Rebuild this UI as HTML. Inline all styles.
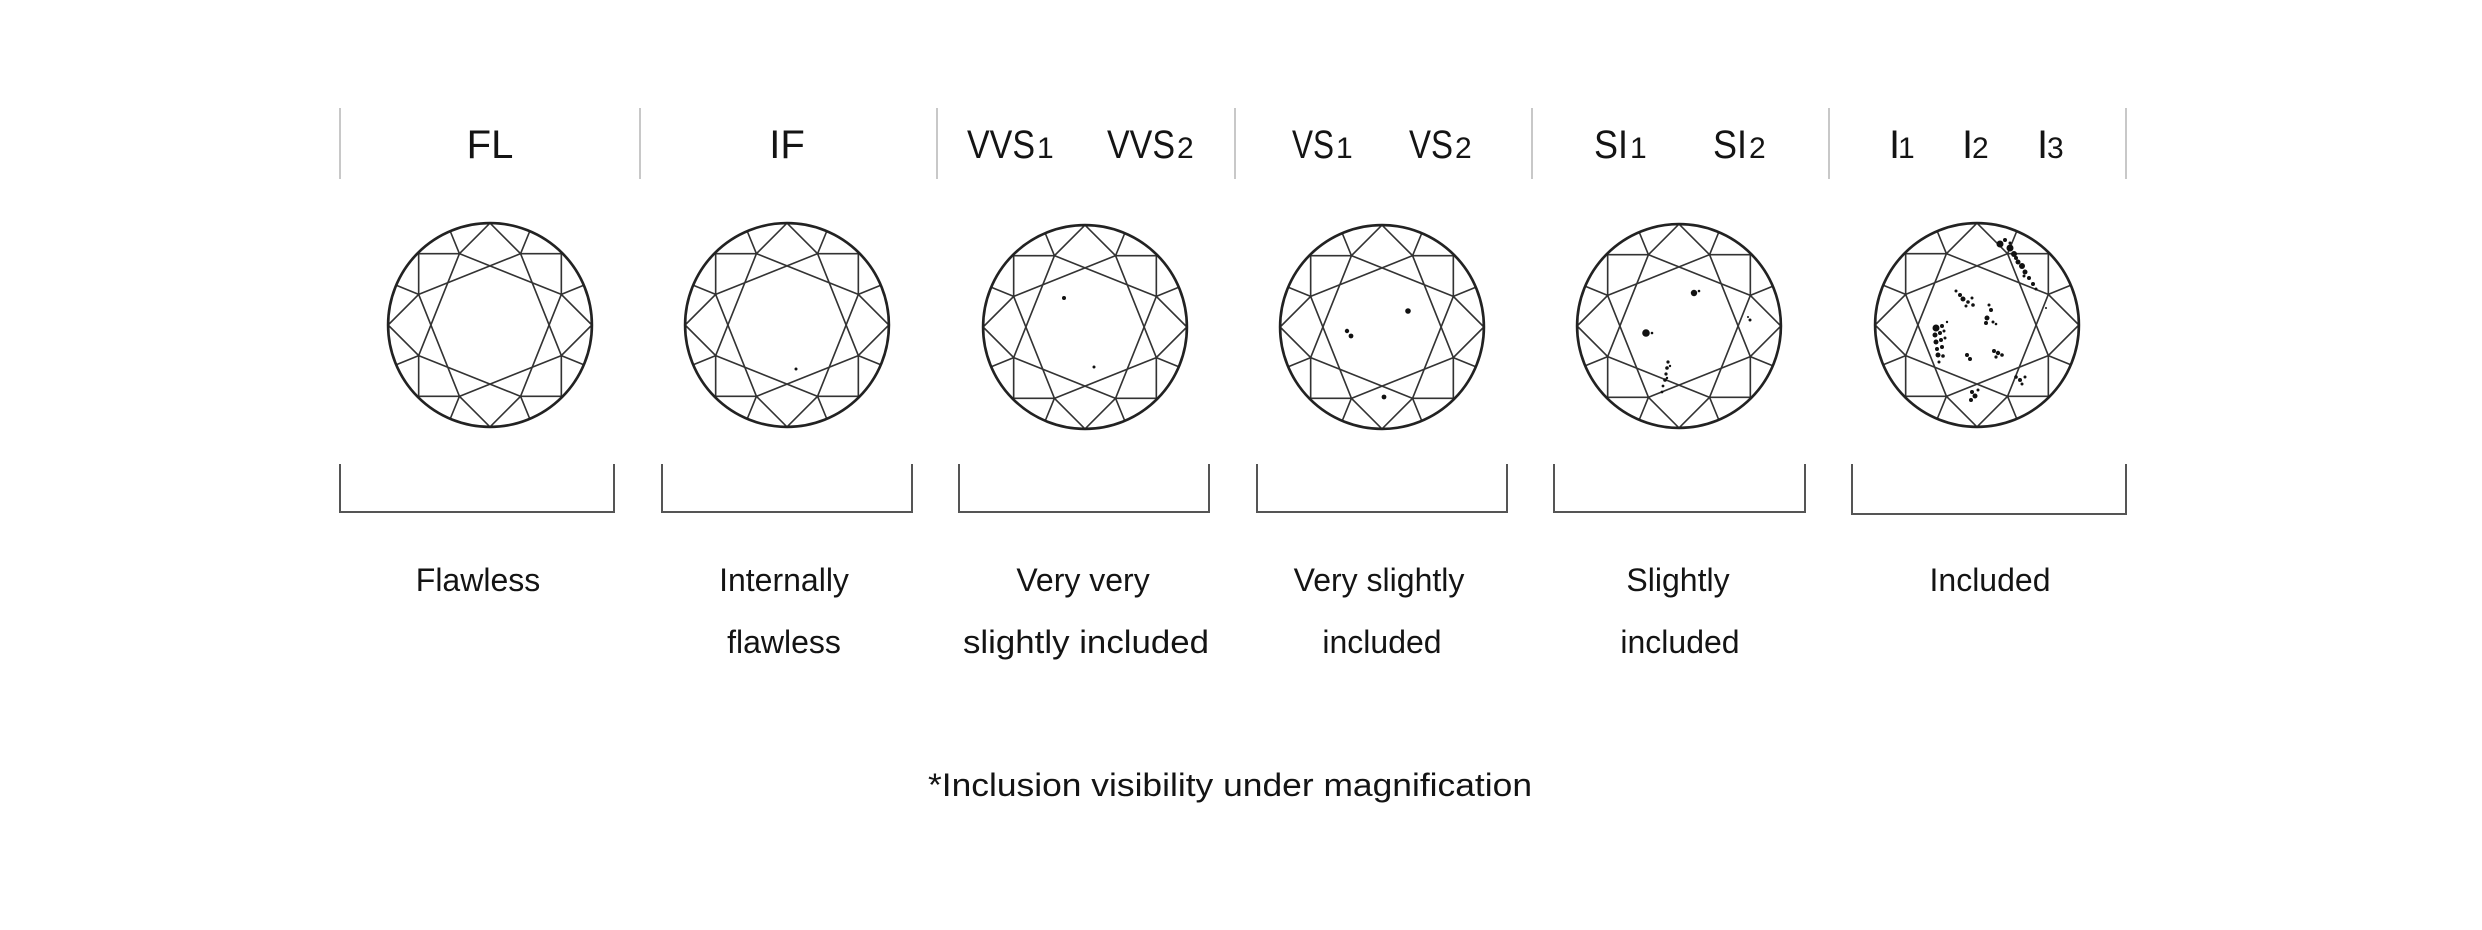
<!DOCTYPE html>
<html><head><meta charset="utf-8"><style>
html,body{margin:0;padding:0;background:#fff;}
svg{display:block;}
text{font-family:"Liberation Sans",sans-serif;fill:#141414;}
.h{font-size:40px;}
.s{font-size:30px;}
.l{font-size:32px;}
</style></head><body>
<svg width="2482" height="930" viewBox="0 0 2482 930" xmlns="http://www.w3.org/2000/svg">
<defs>
<symbol id="d" viewBox="-105 -105 210 210">
<g stroke="#333" stroke-width="1.6" fill="none" stroke-linecap="round">
<line x1="70" y1="30" x2="-30" y2="70"/><line x1="30" y1="70" x2="-70" y2="30"/>
<line x1="-30" y1="70" x2="-70" y2="-30"/><line x1="-70" y1="30" x2="-30" y2="-70"/>
<line x1="-70" y1="-30" x2="30" y2="-70"/><line x1="-30" y1="-70" x2="70" y2="-30"/>
<line x1="30" y1="-70" x2="70" y2="30"/><line x1="70" y1="-30" x2="30" y2="70"/>
<line x1="70" y1="30" x2="92" y2="39"/><line x1="30" y1="70" x2="39" y2="92"/>
<line x1="-30" y1="70" x2="-39" y2="92"/><line x1="-70" y1="30" x2="-92" y2="39"/>
<line x1="-70" y1="-30" x2="-92" y2="-39"/><line x1="-30" y1="-70" x2="-39" y2="-92"/>
<line x1="30" y1="-70" x2="39" y2="-92"/><line x1="70" y1="-30" x2="92" y2="-39"/>
<polyline points="70,30 70,70 30,70"/><polyline points="-30,70 -70,70 -70,30"/>
<polyline points="-70,-30 -70,-70 -30,-70"/><polyline points="30,-70 70,-70 70,-30"/>
<polyline points="70,30 100,0 70,-30"/><polyline points="30,70 0,100 -30,70"/>
<polyline points="-70,30 -100,0 -70,-30"/><polyline points="-30,-70 0,-100 30,-70"/>
</g>
<circle cx="0" cy="0" r="100" fill="none" stroke="#222" stroke-width="2.6"/>
</symbol>
</defs>

<g stroke="#c8c8c8" stroke-width="2">
<line x1="340" y1="108" x2="340" y2="179"/><line x1="640" y1="108" x2="640" y2="179"/>
<line x1="937" y1="108" x2="937" y2="179"/><line x1="1235" y1="108" x2="1235" y2="179"/>
<line x1="1532" y1="108" x2="1532" y2="179"/><line x1="1829" y1="108" x2="1829" y2="179"/>
<line x1="2126" y1="108" x2="2126" y2="179"/>
</g>

<text class="h" x="490" y="158" text-anchor="middle">FL</text>
<text class="h" x="787" y="158" text-anchor="middle">IF</text>
<text class="h" x="967" y="158" textLength="68" lengthAdjust="spacingAndGlyphs">VVS</text><text class="s" x="1037" y="158">1</text>
<text class="h" x="1107" y="158" textLength="68" lengthAdjust="spacingAndGlyphs">VVS</text><text class="s" x="1177" y="158">2</text>
<text class="h" x="1292" y="158" textLength="42" lengthAdjust="spacingAndGlyphs">VS</text><text class="s" x="1336" y="158">1</text>
<text class="h" x="1409" y="158" textLength="44" lengthAdjust="spacingAndGlyphs">VS</text><text class="s" x="1455" y="158">2</text>
<text class="h" x="1594" y="158" textLength="34" lengthAdjust="spacingAndGlyphs">SI</text><text class="s" x="1630" y="158">1</text>
<text class="h" x="1713" y="158" textLength="34" lengthAdjust="spacingAndGlyphs">SI</text><text class="s" x="1749" y="158">2</text>
<text class="h" x="1889" y="158">I</text><text class="s" x="1898" y="158">1</text>
<text class="h" x="1962" y="158">I</text><text class="s" x="1972" y="158">2</text>
<text class="h" x="2037" y="158">I</text><text class="s" x="2047" y="158">3</text>

<use href="#d" x="383" y="218" width="214" height="214"/>
<use href="#d" x="680" y="218" width="214" height="214"/>
<use href="#d" x="978" y="220" width="214" height="214"/>
<use href="#d" x="1275" y="220" width="214" height="214"/>
<use href="#d" x="1572" y="219" width="214" height="214"/>
<use href="#d" x="1870" y="218" width="214" height="214"/>

<g fill="#111">
<circle cx="796" cy="369" r="1.5"/>
<circle cx="1064" cy="298" r="2"/><circle cx="1094" cy="367" r="1.5"/>
<circle cx="1408" cy="311" r="2.8"/><circle cx="1347" cy="331" r="2.2"/><circle cx="1351" cy="336" r="2.4"/><circle cx="1384" cy="397" r="2.4"/>
<circle cx="1694" cy="293" r="3.2"/><circle cx="1699" cy="291" r="1.3"/>
<circle cx="1646" cy="333" r="3.8"/><circle cx="1652" cy="333" r="1.3"/>
<circle cx="1750" cy="320" r="1.5"/><circle cx="1748" cy="317" r="1"/>
<circle cx="1668" cy="362" r="1.6"/><circle cx="1667" cy="368" r="1.8"/><circle cx="1666" cy="374" r="1.6"/><circle cx="1665" cy="380" r="1.8"/><circle cx="1663" cy="386" r="1.4"/><circle cx="1662" cy="392" r="1.4"/><circle cx="1670" cy="366" r="1.2"/><circle cx="1667" cy="378" r="1.2"/>
<circle cx="2000" cy="244" r="3.5"/><circle cx="2010" cy="248" r="3.5"/><circle cx="2005" cy="240" r="2"/><circle cx="2014" cy="254" r="3"/><circle cx="2018" cy="262" r="2.5"/><circle cx="2022" cy="266" r="3"/><circle cx="2025" cy="272" r="2.5"/><circle cx="2029" cy="278" r="2"/><circle cx="2033" cy="284" r="2"/><circle cx="2036" cy="289" r="1.5"/><circle cx="2016" cy="258" r="2"/><circle cx="2024" cy="276" r="1.5"/><circle cx="2010" cy="243" r="1.5"/>
<circle cx="2046" cy="308" r="1"/>
<circle cx="1956" cy="291" r="1.5"/><circle cx="1960" cy="295" r="2"/><circle cx="1963" cy="299" r="2.5"/><circle cx="1968" cy="302" r="1.8"/><circle cx="1972" cy="298" r="1.5"/><circle cx="1966" cy="306" r="1.5"/><circle cx="1973" cy="305" r="1.8"/>
<circle cx="1989" cy="305" r="1.5"/><circle cx="1991" cy="310" r="2"/><circle cx="1987" cy="318" r="2.5"/><circle cx="1986" cy="323" r="2"/><circle cx="1993" cy="322" r="1.5"/><circle cx="1996" cy="324" r="1.3"/>
<circle cx="1936" cy="328" r="3.5"/><circle cx="1942" cy="326" r="2"/><circle cx="1935" cy="335" r="2.5"/><circle cx="1940" cy="333" r="2"/><circle cx="1944" cy="331" r="1.5"/><circle cx="1936" cy="342" r="2.5"/><circle cx="1941" cy="340" r="2"/><circle cx="1945" cy="338" r="1.5"/><circle cx="1937" cy="349" r="2"/><circle cx="1942" cy="347" r="2"/><circle cx="1938" cy="355" r="2.5"/><circle cx="1943" cy="356" r="1.8"/><circle cx="1939" cy="362" r="1.5"/><circle cx="1947" cy="322" r="1.2"/>
<circle cx="1967" cy="355" r="2"/><circle cx="1970" cy="359" r="2"/>
<circle cx="1994" cy="351" r="2"/><circle cx="1998" cy="353" r="2.2"/><circle cx="2002" cy="355" r="1.8"/><circle cx="1996" cy="357" r="1.6"/>
<circle cx="2016" cy="377" r="1.8"/><circle cx="2020" cy="380" r="2"/><circle cx="2025" cy="377" r="1.5"/><circle cx="2022" cy="384" r="1.5"/>
<circle cx="1972" cy="392" r="2"/><circle cx="1975" cy="396" r="2.5"/><circle cx="1971" cy="400" r="2"/><circle cx="1978" cy="390" r="1.5"/>
</g>

<g stroke="#555" stroke-width="2" fill="none">
<polyline points="340,464 340,512 614,512 614,464"/>
<polyline points="662,464 662,512 912,512 912,464"/>
<polyline points="959,464 959,512 1209,512 1209,464"/>
<polyline points="1257,464 1257,512 1507,512 1507,464"/>
<polyline points="1554,464 1554,512 1805,512 1805,464"/>
<polyline points="1852,464 1852,514 2126,514 2126,464"/>
</g>

<text class="l" x="478" y="591" text-anchor="middle">Flawless</text>
<text class="l" x="784" y="591" text-anchor="middle">Internally</text>
<text class="l" x="784" y="653" text-anchor="middle">flawless</text>
<text class="l" x="1083" y="591" text-anchor="middle">Very very</text>
<text class="l" x="1086" y="653" text-anchor="middle" textLength="246" lengthAdjust="spacingAndGlyphs">slightly included</text>
<text class="l" x="1379" y="591" text-anchor="middle">Very slightly</text>
<text class="l" x="1382" y="653" text-anchor="middle">included</text>
<text class="l" x="1678" y="591" text-anchor="middle">Slightly</text>
<text class="l" x="1680" y="653" text-anchor="middle">included</text>
<text class="l" x="1990" y="591" text-anchor="middle">Included</text>
<text class="l" x="1230" y="796" text-anchor="middle" textLength="604" lengthAdjust="spacingAndGlyphs">*Inclusion visibility under magnification</text>
</svg>
</body></html>
